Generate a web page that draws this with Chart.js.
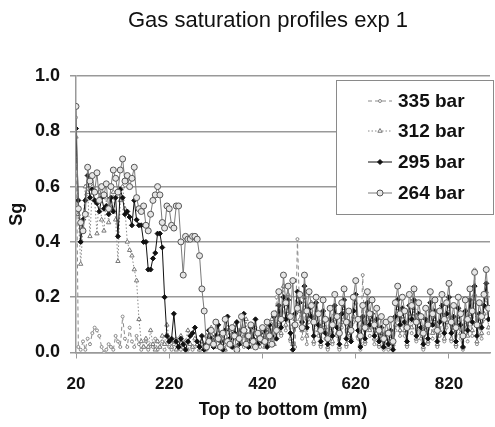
<!DOCTYPE html>
<html>
<head>
<meta charset="utf-8">
<script src="https://cdn.jsdelivr.net/npm/chart.js@4.4.1/dist/chart.umd.min.js"></script>
<style>
  body { margin: 0; background: #fff; }
  canvas { display: block; }
</style>
</head>
<body>
<canvas id="profiles" width="495" height="427"></canvas>
<script>
// depth along the core, mm
const depth = [
  20, 25, 30, 35, 40, 45, 50, 55, 60, 65,
  70, 75, 80, 85, 90, 95, 100, 105, 110, 115,
  120, 125, 130, 135, 140, 145, 150, 155, 160, 165,
  170, 175, 180, 185, 190, 195, 200, 205, 210, 215,
  220, 225, 230, 235, 240, 245, 250, 255, 260, 265,
  270, 275, 280, 285, 290, 295, 300, 305, 310, 315,
  320, 325, 330, 335, 340, 345, 350, 355, 360, 365,
  370, 375, 380, 385, 390, 395, 400, 405, 410, 415,
  420, 425, 430, 435, 440, 445, 450, 455, 460, 465,
  470, 475, 480, 485, 490, 495, 500, 505, 510, 515,
  520, 525, 530, 535, 540, 545, 550, 555, 560, 565,
  570, 575, 580, 585, 590, 595, 600, 605, 610, 615,
  620, 625, 630, 635, 640, 645, 650, 655, 660, 665,
  670, 675, 680, 685, 690, 695, 700, 705, 710, 715,
  720, 725, 730, 735, 740, 745, 750, 755, 760, 765,
  770, 775, 780, 785, 790, 795, 800, 805, 810, 815,
  820, 825, 830, 835, 840, 845, 850, 855, 860, 865,
  870, 875, 880, 885, 890, 895, 900, 905
];

const sg335 = [
  0.85, 0.02, 0.01, 0.04, 0.01, 0.05, 0.03, 0.07, 0.09, 0.08,
  0.06, 0.02, 0.00, 0.01, 0.03, 0.02, 0.01, 0.06, 0.04, 0.02,
  0.13, 0.05, 0.02, 0.09, 0.04, 0.02, 0.06, 0.03, 0.01, 0.02,
  0.04, 0.01, 0.03, 0.02, 0.05, 0.01, 0.02, 0.04, 0.01, 0.03,
  0.02, 0.01, 0.03, 0.05, 0.02, 0.01, 0.04, 0.02, 0.01, 0.03,
  0.01, 0.02, 0.04, 0.01, 0.03, 0.02, 0.01, 0.05, 0.03, 0.02,
  0.04, 0.02, 0.06, 0.03, 0.01, 0.05, 0.08, 0.03, 0.02, 0.06,
  0.03, 0.05, 0.02, 0.07, 0.04, 0.02, 0.06, 0.09, 0.04, 0.02,
  0.05, 0.03, 0.07, 0.04, 0.09, 0.05, 0.20, 0.11, 0.06, 0.17,
  0.08, 0.14, 0.04, 0.10, 0.02, 0.41, 0.12, 0.05, 0.16, 0.03,
  0.11, 0.15, 0.03, 0.12, 0.06, 0.02, 0.10, 0.05, 0.01, 0.08,
  0.03, 0.12, 0.06, 0.01, 0.09, 0.14, 0.02, 0.07, 0.04, 0.11,
  0.15, 0.05, 0.01, 0.28, 0.03, 0.12, 0.06, 0.10, 0.03, 0.07,
  0.02, 0.05, 0.01, 0.04, 0.01, 0.05, 0.02, 0.08, 0.13, 0.06,
  0.11, 0.06, 0.02, 0.12, 0.07, 0.14, 0.04, 0.09, 0.05, 0.01,
  0.08, 0.03, 0.12, 0.05, 0.10, 0.02, 0.06, 0.12, 0.04, 0.09,
  0.14, 0.04, 0.08, 0.02, 0.11, 0.05, 0.01, 0.10, 0.04, 0.13,
  0.06, 0.30, 0.03, 0.09, 0.05, 0.12, 0.19, 0.07
];

const sg312 = [
  0.78, 0.50, 0.32, 0.45, 0.60, 0.58, 0.42, 0.60, 0.55, 0.43,
  0.58, 0.48, 0.44, 0.56, 0.47, 0.52, 0.58, 0.48, 0.33, 0.55,
  0.60, 0.52, 0.40, 0.37, 0.35, 0.30, 0.26, 0.12, 0.04, 0.02,
  0.05, 0.02, 0.08, 0.03, 0.01, 0.04, 0.02, 0.06, 0.03, 0.10,
  0.05, 0.02, 0.04, 0.01, 0.03, 0.06, 0.02, 0.04, 0.08, 0.03,
  0.02, 0.05, 0.03, 0.01, 0.04, 0.02, 0.06, 0.03, 0.09, 0.04,
  0.02, 0.07, 0.03, 0.05, 0.01, 0.09, 0.04, 0.02, 0.10, 0.05,
  0.08, 0.03, 0.06, 0.12, 0.02, 0.05, 0.09, 0.03, 0.07, 0.04,
  0.06, 0.02, 0.08, 0.05, 0.12, 0.03, 0.10, 0.15, 0.07, 0.24,
  0.10, 0.21, 0.05, 0.03, 0.12, 0.19, 0.15, 0.08, 0.20, 0.06,
  0.13, 0.18, 0.04, 0.14, 0.08, 0.03, 0.12, 0.09, 0.02, 0.10,
  0.04, 0.14, 0.07, 0.02, 0.11, 0.16, 0.03, 0.09, 0.05, 0.13,
  0.18, 0.06, 0.03, 0.10, 0.04, 0.15, 0.08, 0.12, 0.05, 0.09,
  0.03, 0.07, 0.02, 0.05, 0.02, 0.06, 0.03, 0.10, 0.16, 0.08,
  0.13, 0.08, 0.03, 0.14, 0.09, 0.16, 0.05, 0.11, 0.07, 0.02,
  0.10, 0.04, 0.15, 0.07, 0.12, 0.03, 0.08, 0.14, 0.05, 0.11,
  0.17, 0.05, 0.10, 0.03, 0.13, 0.07, 0.02, 0.12, 0.06, 0.16,
  0.08, 0.21, 0.04, 0.11, 0.07, 0.14, 0.22, 0.09
];

const sg295 = [
  0.81, 0.55, 0.40, 0.48, 0.55, 0.64, 0.56, 0.59, 0.55, 0.54,
  0.51, 0.56, 0.52, 0.53, 0.50, 0.56, 0.51, 0.56, 0.42, 0.59,
  0.56, 0.50, 0.51, 0.49, 0.46, 0.55, 0.48, 0.46, 0.46, 0.40,
  0.40, 0.30, 0.30, 0.34, 0.36, 0.43, 0.43, 0.38, 0.20, 0.06,
  0.04, 0.05, 0.14, 0.04, 0.02, 0.05, 0.03, 0.01, 0.04, 0.06,
  0.07, 0.09, 0.04, 0.02, 0.06, 0.01, 0.03, 0.08, 0.05, 0.02,
  0.06, 0.10, 0.04, 0.01, 0.08, 0.13, 0.05, 0.02, 0.07, 0.11,
  0.03, 0.08, 0.14, 0.06, 0.02, 0.09, 0.05, 0.12, 0.03, 0.07,
  0.04, 0.08, 0.02, 0.10, 0.06, 0.13, 0.05, 0.17, 0.09, 0.20,
  0.12, 0.19, 0.07, 0.01, 0.14, 0.22, 0.18, 0.11, 0.24, 0.09,
  0.16, 0.13, 0.06, 0.18, 0.10, 0.04, 0.15, 0.07, 0.03, 0.12,
  0.06, 0.17, 0.09, 0.03, 0.14, 0.19, 0.05, 0.11, 0.04, 0.15,
  0.21, 0.08, 0.02, 0.13, 0.05, 0.18, 0.10, 0.14, 0.06, 0.12,
  0.04, 0.09, 0.02, 0.07, 0.03, 0.08, 0.01, 0.13, 0.19, 0.10,
  0.16, 0.11, 0.04, 0.17, 0.12, 0.19, 0.06, 0.14, 0.09, 0.03,
  0.12, 0.05, 0.18, 0.10, 0.15, 0.04, 0.11, 0.17, 0.07, 0.14,
  0.20, 0.07, 0.13, 0.04, 0.16, 0.10, 0.02, 0.15, 0.08, 0.19,
  0.11, 0.24, 0.06, 0.14, 0.09, 0.17, 0.25, 0.12
];

const sg264 = [
  0.89, 0.52, 0.47, 0.44, 0.50, 0.67, 0.62, 0.64, 0.58, 0.65,
  0.55, 0.60, 0.57, 0.61, 0.52, 0.60, 0.66, 0.63, 0.58, 0.66,
  0.70, 0.62, 0.64, 0.60, 0.63, 0.67, 0.56, 0.52, 0.51, 0.53,
  0.46, 0.44, 0.50, 0.55, 0.57, 0.60, 0.57, 0.47, 0.45, 0.53,
  0.52, 0.46, 0.45, 0.53, 0.53, 0.40, 0.28, 0.42, 0.41, 0.41,
  0.42, 0.42, 0.41, 0.35, 0.23, 0.15, 0.02, 0.04, 0.08, 0.03,
  0.11, 0.05, 0.02, 0.07, 0.12, 0.04, 0.03, 0.09, 0.06, 0.01,
  0.05, 0.13, 0.08, 0.03, 0.06, 0.10, 0.04, 0.02, 0.07, 0.05,
  0.09, 0.04, 0.11, 0.06, 0.03, 0.14, 0.08, 0.22, 0.12, 0.28,
  0.18, 0.24, 0.13, 0.26, 0.10, 0.16, 0.21, 0.09, 0.28, 0.15,
  0.22, 0.17, 0.11, 0.20, 0.14, 0.08, 0.19, 0.12, 0.05, 0.16,
  0.10, 0.21, 0.13, 0.07, 0.18, 0.23, 0.11, 0.15, 0.08, 0.20,
  0.26, 0.12, 0.06, 0.17, 0.09, 0.22, 0.14, 0.19, 0.10, 0.16,
  0.08, 0.13, 0.05, 0.11, 0.07, 0.12, 0.04, 0.18, 0.24, 0.14,
  0.20, 0.15, 0.09, 0.21, 0.17, 0.23, 0.11, 0.18, 0.13, 0.07,
  0.16, 0.10, 0.22, 0.14, 0.19, 0.08, 0.15, 0.21, 0.12, 0.18,
  0.25, 0.11, 0.17, 0.09, 0.20, 0.14, 0.06, 0.19, 0.12, 0.23,
  0.15, 0.29, 0.10, 0.18, 0.13, 0.21, 0.30, 0.16
];

const xTicks = [20, 220, 420, 620, 820];
const yTicks = [0, 0.2, 0.4, 0.6, 0.8, 1.0];

const FONT = '"Liberation Sans", Arial, Helvetica, sans-serif';

function pts(vals) {
  return depth.map((d, i) => ({ x: d, y: vals[i] }));
}

// legend drawn as a boxed key inside the plot, like the original
const boxLegend = {
  id: 'boxLegend',
  afterDraw(chart) {
    const ctx = chart.ctx;
    ctx.save();
    ctx.fillStyle = '#fff';
    ctx.strokeStyle = '#8a8a8a';
    ctx.lineWidth = 1;
    ctx.fillRect(336, 80, 157, 134);
    ctx.strokeRect(336.5, 80.5, 157, 134);
    const rows = [101, 131, 162, 193];
    chart.data.datasets.forEach((ds, i) => {
      const y = rows[i];
      ctx.strokeStyle = ds.borderColor;
      ctx.lineWidth = ds.borderWidth;
      ctx.setLineDash(ds.borderDash || []);
      ctx.beginPath();
      ctx.moveTo(368, y);
      ctx.lineTo(392, y);
      ctx.stroke();
      ctx.setLineDash([]);
      ctx.fillStyle = ds.pointBackgroundColor;
      ctx.strokeStyle = ds.pointBorderColor;
      ctx.lineWidth = 1;
      Chart.helpers.drawPoint(ctx, {
        pointStyle: ds.pointStyle, radius: ds.pointRadius, rotation: 0, borderWidth: 1
      }, 380, y);
      ctx.fillStyle = '#111';
      ctx.font = 'bold 19px ' + FONT;
      ctx.textAlign = 'left';
      ctx.textBaseline = 'middle';
      ctx.fillText(ds.label, 398, y + 1);
    });
    ctx.restore();
  }
};

const heading = {
  id: 'heading',
  afterDraw(chart) {
    const ctx = chart.ctx;
    ctx.save();
    ctx.fillStyle = '#111';
    ctx.font = '22px ' + FONT;
    ctx.textAlign = 'center';
    ctx.textBaseline = 'middle';
    ctx.fillText('Gas saturation profiles exp 1', 268, 21);
    ctx.restore();
  }
};

const ctx = document.getElementById('profiles').getContext('2d');
const profiles = new Chart(ctx, {
  type: 'line',
  data: {
    datasets: [
      {
        label: '335 bar', data: pts(sg335), order: 4,
        borderColor: '#8a8a8a', borderWidth: 1, borderDash: [4, 3],
        pointStyle: 'circle', pointRadius: 1.5,
        pointBackgroundColor: '#fff', pointBorderColor: '#888', pointBorderWidth: 1
      },
      {
        label: '312 bar', data: pts(sg312), order: 3,
        borderColor: '#8a8a8a', borderWidth: 1, borderDash: [1.5, 2],
        pointStyle: 'triangle', pointRadius: 2.5,
        pointBackgroundColor: '#fff', pointBorderColor: '#777', pointBorderWidth: 1
      },
      {
        label: '295 bar', data: pts(sg295), order: 2,
        borderColor: '#111', borderWidth: 1,
        pointStyle: 'rectRot', pointRadius: 2.5,
        pointBackgroundColor: '#111', pointBorderColor: '#111', pointBorderWidth: 1
      },
      {
        label: '264 bar', data: pts(sg264), order: 1,
        borderColor: '#7a7a7a', borderWidth: 1,
        pointStyle: 'circle', pointRadius: 3,
        pointBackgroundColor: '#e6e6e6', pointBorderColor: '#555', pointBorderWidth: 1
      }
    ]
  },
  options: {
    responsive: false,
    animation: false,
    layout: { padding: { top: 76, right: 3, left: 0, bottom: 0 } },
    elements: { line: { tension: 0 } },
    plugins: {
      legend: { display: false },
      title: { display: false },
      tooltip: { enabled: false }
    },
    scales: {
      x: {
        type: 'linear',
        min: 20,
        max: 908,
        afterBuildTicks: (s) => { s.ticks = xTicks.map(v => ({ value: v })); },
        afterFit: (s) => { s.height = 74.5; },
        grid: { drawOnChartArea: false, drawTicks: true, tickLength: 6, color: '#999' },
        border: { display: true, color: '#999', width: 1.5 },
        ticks: { color: '#111', padding: 16, maxRotation: 0, font: { family: FONT, size: 17, weight: 'bold' } },
        title: {
          display: true, text: 'Top to bottom (mm)', color: '#111',
          padding: { top: 0, bottom: 6 },
          font: { family: FONT, size: 18, weight: 'bold' }
        }
      },
      y: {
        min: 0,
        max: 1,
        afterBuildTicks: (s) => { s.ticks = yTicks.map(v => ({ value: v })); },
        afterFit: (s) => { s.width = 76; },
        grid: { color: '#999', lineWidth: 1.5, tickLength: 6 },
        border: { display: true, color: '#999', width: 1.5 },
        ticks: {
          color: '#111', padding: 10,
          font: { family: FONT, size: 18, weight: 'bold' },
          callback: (v) => v.toFixed(1)
        },
        title: {
          display: true, text: 'Sg', color: '#111',
          padding: { top: 6, bottom: 0 },
          font: { family: FONT, size: 18, weight: 'bold' }
        }
      }
    }
  },
  plugins: [boxLegend, heading]
});
</script>
</body>
</html>
